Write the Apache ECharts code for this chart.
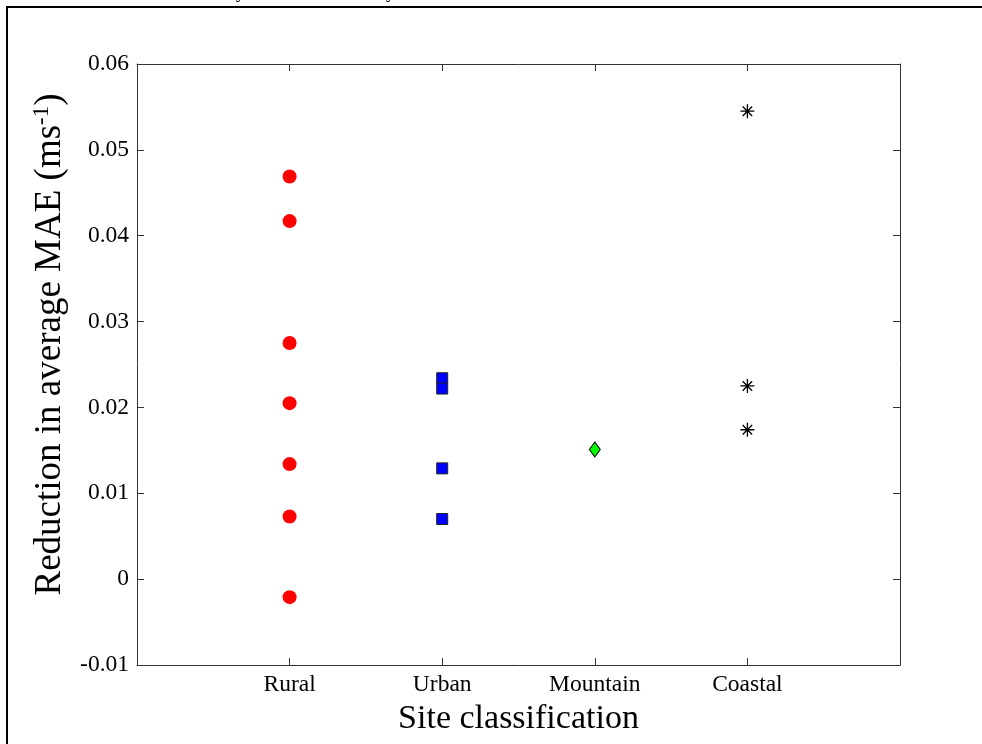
<!DOCTYPE html>
<html>
<head>
<meta charset="utf-8">
<script src="https://cdn.jsdelivr.net/npm/echarts@6/dist/echarts.min.js"></script>
<style>
html,body{margin:0;padding:0;background:#fff;}
#chart{width:982px;height:744px;}
</style>
</head>
<body>
<div id="chart"></div>
<script>
var categories = ['Rural', 'Urban', 'Mountain', 'Coastal'];
var ruralValues = [0.0469, 0.0417, 0.0275, 0.0205, 0.0134, 0.0073, -0.0021];
var urbanValues = [0.0234, 0.0222, 0.0129, 0.0070];
var mountainValues = [0.0151];
var coastalValues = [0.0545, 0.0225, 0.0174];
var yTicks = [-0.01, 0, 0.01, 0.02, 0.03, 0.04, 0.05, 0.06];

function pts(idx, arr) { return arr.map(function (v) { return [idx + 1, v]; }); }

var FONT = 'Liberation Serif';
var chart = echarts.init(document.getElementById('chart'));
var axisLineStyle = { color: '#333', width: 1 };

chart.setOption({
  backgroundColor: '#fff',
  animation: false,
  grid: { left: 137, right: 82, top: 64, bottom: 79, containLabel: false },
  xAxis: [{
    type: 'value', min: 0, max: categories.length + 1, interval: 1,
    position: 'bottom',
    axisLine: { show: true, onZero: false, lineStyle: axisLineStyle },
    axisTick: { show: true, inside: true, length: 7, lineStyle: axisLineStyle },
    splitLine: { show: false },
    axisLabel: {
      fontFamily: FONT, fontSize: 23.5, color: '#000', margin: 8,
      formatter: function (v) { return categories[v - 1] || ''; }
    },
    name: 'Site classification', nameLocation: 'middle', nameGap: 27,
    nameTextStyle: { fontFamily: FONT, fontSize: 34, color: '#000' }
  }, {
    type: 'value', min: 0, max: categories.length + 1, interval: 1,
    position: 'top',
    axisLine: { show: true, onZero: false, lineStyle: axisLineStyle },
    axisTick: { show: true, inside: true, length: 7, lineStyle: axisLineStyle },
    splitLine: { show: false }, axisLabel: { show: false }
  }],
  yAxis: [{
    type: 'value', min: yTicks[0], max: yTicks[yTicks.length - 1], interval: 0.01,
    position: 'left',
    axisLine: { show: true, onZero: false, lineStyle: axisLineStyle },
    axisTick: { show: true, inside: true, length: 7, lineStyle: axisLineStyle },
    splitLine: { show: false },
    axisLabel: {
      fontFamily: FONT, fontSize: 23.5, color: '#000', margin: 8,
      formatter: function (v) { var r = Math.round(v * 100) / 100; return r === 0 ? '0' : r.toFixed(2); }
    },
    name: '{n|Reduction in average MAE (ms}{s|-1}{n|)}', nameLocation: 'middle', nameGap: 59,
    nameRotate: 90,
    nameTextStyle: {
      padding: [0, 0, 0, 40],
      rich: {
        n: { fontFamily: FONT, fontSize: 37, color: '#000' },
        s: { fontFamily: FONT, fontSize: 23, color: '#000', verticalAlign: 'top', padding: [0, 0, 17, 0] }
      }
    }
  }, {
    type: 'value', min: yTicks[0], max: yTicks[yTicks.length - 1], interval: 0.01,
    position: 'right',
    axisLine: { show: true, onZero: false, lineStyle: axisLineStyle },
    axisTick: { show: true, inside: true, length: 7, lineStyle: axisLineStyle },
    splitLine: { show: false }, axisLabel: { show: false }
  }],
  series: [{
    type: 'scatter', data: pts(0, ruralValues), symbol: 'circle', symbolSize: 14,
    itemStyle: { color: '#ff0000', opacity: 1 }
  }, {
    type: 'scatter', data: pts(1, urbanValues), symbol: 'rect', symbolSize: 11,
    itemStyle: { color: '#0000ff', borderColor: '#222', borderWidth: 1, opacity: 1 }
  }, {
    type: 'scatter', data: pts(2, mountainValues), symbol: 'diamond', symbolSize: [11, 15],
    itemStyle: { color: '#00ff00', borderColor: '#000', borderWidth: 1, opacity: 1 }
  }, {
    type: 'scatter', data: pts(3, coastalValues),
    symbol: 'path://M0,5L10,5M5,0L5,10M1.6,1.6L8.4,8.4M8.4,1.6L1.6,8.4', symbolSize: 14,
    itemStyle: { color: 'none', borderColor: '#000', borderWidth: 1.3, opacity: 1 }
  }],
  graphic: [{
    type: 'polyline', silent: true,
    shape: { points: [[7, 744], [7, 7], [982, 7]] },
    style: { stroke: '#000', lineWidth: 2, fill: null }
  }, {
    type: 'text', left: 236, top: -16,
    style: { text: 'y', font: '18px "Liberation Serif"', fill: '#000' }
  }, {
    type: 'text', left: 386, top: -16,
    style: { text: 'y', font: '18px "Liberation Serif"', fill: '#000' }
  }]
});
</script>
</body>
</html>
